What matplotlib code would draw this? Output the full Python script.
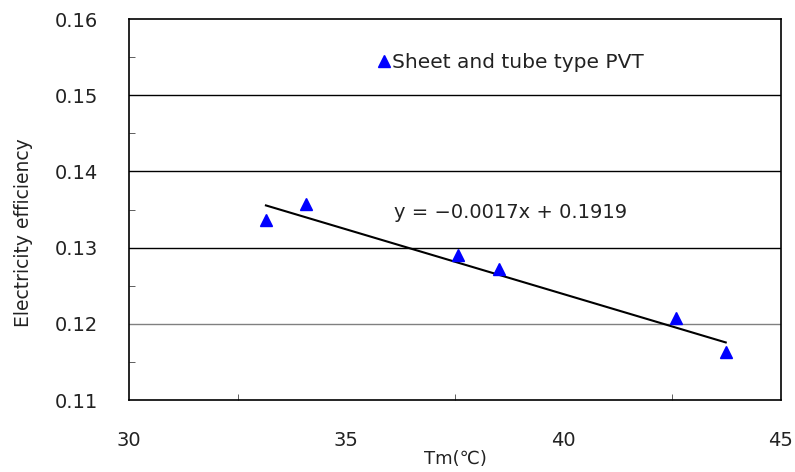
import numpy as np
import matplotlib
matplotlib.use("Agg")
import matplotlib.pyplot as plt
from matplotlib.ticker import MultipleLocator

plt.rcParams["font.family"] = ["DejaVu Sans"]

# measured points (Tm in degC, electrical efficiency)
tm = [33.15, 34.07, 37.57, 38.51, 42.58, 43.73]
eff = [0.1336, 0.1357, 0.1290, 0.1272, 0.1208, 0.1163]

# linear trend as printed on the chart
slope = -0.0017
intercept = 0.1919

x_ticks = [30, 35, 40, 45]
y_ticks = [0.11, 0.12, 0.13, 0.14, 0.15, 0.16]

fig = plt.figure(figsize=(7.95, 4.72), dpi=100)
ax = fig.add_axes([0.1623, 0.1525, 0.820, 0.807])

for yv in y_ticks[1:-1]:
    col = "#808080" if yv == 0.12 else "black"
    ax.axhline(yv, color=col, lw=1.0, zorder=1)

ax.plot(tm, eff, "^", color="blue", ms=9, ls="none",
        label="Sheet and tube type PVT", zorder=3)

xfit = np.array([min(tm), max(tm)])
ax.plot(xfit, slope * xfit + intercept, color="black", lw=1.5, zorder=2)

ax.text(36.1, 0.1346, "y = \u22120.0017x + 0.1919", fontsize=14,
        color="#222222", va="center")

ax.set_xlim(30, 45)
ax.set_ylim(0.11, 0.16)
ax.set_xticks(x_ticks)
ax.set_yticks(y_ticks)
ax.set_yticklabels([f"{v:.2f}" for v in y_ticks])
ax.xaxis.set_minor_locator(MultipleLocator(2.5))
ax.yaxis.set_minor_locator(MultipleLocator(0.005))
ax.tick_params(which="major", length=0, labelsize=14, pad=22, colors="#222222")
ax.tick_params(which="minor", direction="in", length=4, color="#444444")
ax.tick_params(axis="x", which="minor", top=False)
for s in ax.spines.values():
    s.set_linewidth(1.2)

ax.set_xlabel("Tm(\u2103)", fontsize=13, color="#222222", labelpad=0)
ax.set_ylabel("Electricity efficiency", fontsize=13.5, color="#222222")
ax.yaxis.set_label_coords(-0.148, 0.44)

ax.legend(loc="center left", bbox_to_anchor=(0.384, 0.887), frameon=False,
          handlelength=0.5, handletextpad=0.15, borderpad=0, borderaxespad=0,
          fontsize=14.5, labelcolor="#222222")

fig.savefig("out.png", dpi=100)
